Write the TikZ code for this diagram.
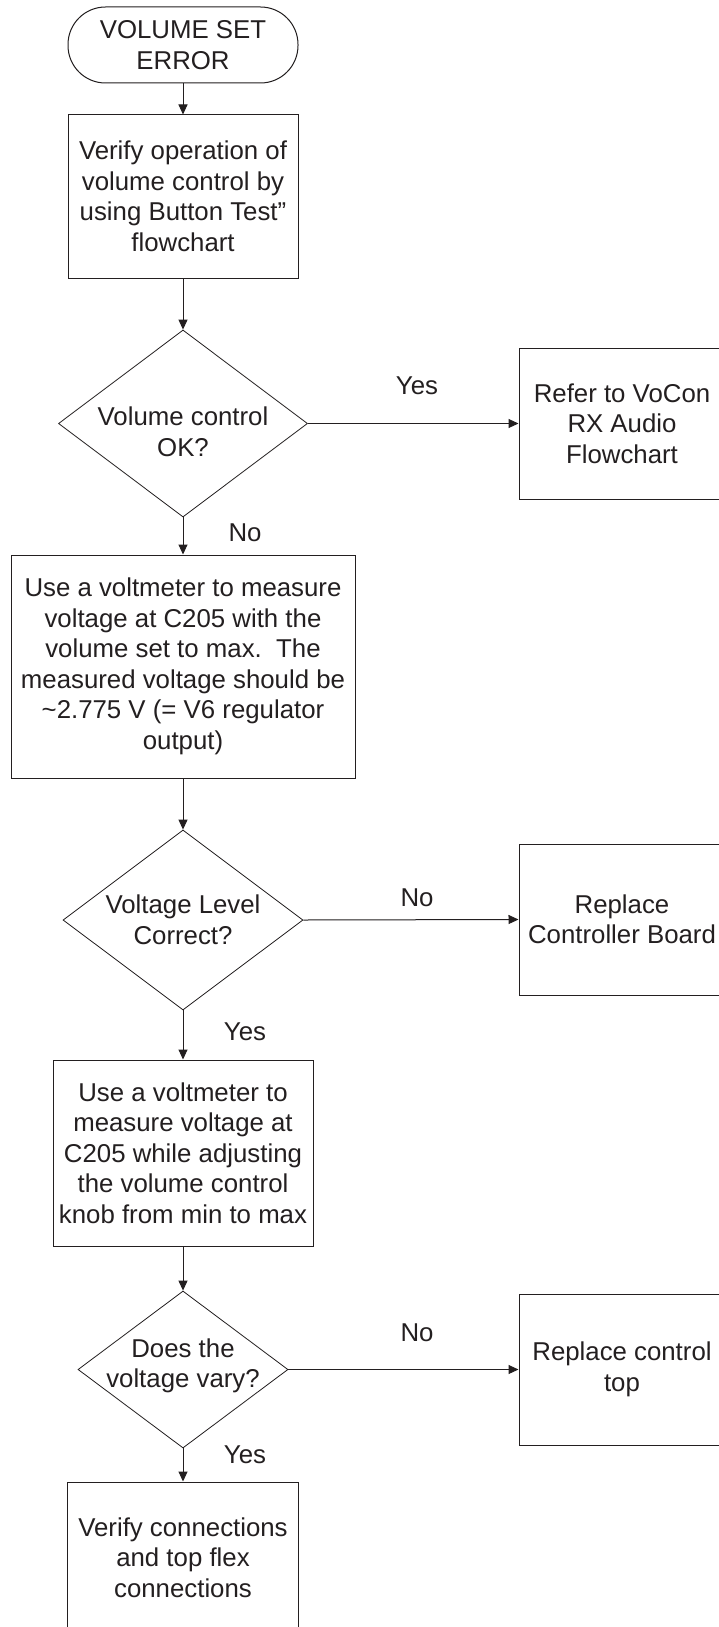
\documentclass[tikz,border=0pt]{standalone}
\usepackage{fontspec}
\setmainfont{Liberation Sans}
\usetikzlibrary{shapes.geometric,arrows.meta}
\definecolor{ink}{HTML}{231F20}
\tikzset{
  basefont/.style={font=\fontsize{25.8pt}{30.5pt}\selectfont, text=ink},
  proc/.style={draw=ink, line width=1pt, rectangle, inner sep=0pt, align=center, basefont},
  term/.style={proc, rounded corners=37.5pt},
  dia/.style={draw=ink, line width=0.8pt, diamond, inner sep=0pt},
  txt/.style={align=center, inner sep=0pt, basefont},
  lbl/.style={inner sep=0pt, basefont},
  arr/.style={draw=ink, line width=1pt, -{Triangle[length=10pt,width=9pt]}}
}
\begin{document}
\begin{tikzpicture}[x=1pt, y=-1pt]
\fill[white] (0,0) rectangle (719,1627);
\useasboundingbox (0,0) rectangle (719,1627);

\node[term, minimum width=230pt, minimum height=76pt] (start) at (183,45) {VOLUME SET\\ERROR};
\node[proc, minimum width=230pt, minimum height=163pt] (b1) at (183,196.5) {Verify operation of\\volume control by\\using Button Test''\\flowchart};

\node[dia, minimum width=249pt, minimum height=187pt] (d1) at (183,423.5) {};
\node[txt] (d1t) at (183,432) {Volume control\\OK?};
\node[proc, minimum width=206pt, minimum height=151pt] (r1) at (622,423.5) {Refer to VoCon\\RX Audio\\Flowchart};

\node[proc, minimum width=344pt, minimum height=223pt] (b2) at (183,666.5) {Use a voltmeter to measure\\voltage at C205 with the\\volume set to max.\ \ The\\measured voltage should be\\\textasciitilde2.775 V (= V6 regulator\\output)};

\node[dia, minimum width=240pt, minimum height=180pt] (d2) at (183,920) {};
\node[txt] (d2t) at (183,920) {Voltage Level\\Correct?};
\node[proc, minimum width=206pt, minimum height=151pt] (r2) at (622,919.5) {Replace\\Controller Board};

\node[proc, minimum width=260pt, minimum height=186pt] (b3) at (183,1153) {Use a voltmeter to\\measure voltage at\\C205 while adjusting\\the volume control\\knob from min to max};

\node[dia, minimum width=210pt, minimum height=157pt] (d3) at (183,1369.5) {};
\node[txt] (d3t) at (183,1366) {Does the\\voltage vary?};
\node[proc, minimum width=206pt, minimum height=151pt] (r3) at (622,1369.5) {Replace control\\top};

\node[proc, minimum width=231pt, minimum height=151pt] (b4) at (183,1557.5) {Verify connections\\and top flex\\connections};

\draw[arr] (start) -- (b1);
\draw[arr] (b1) -- (d1);
\draw[arr] (d1.east) -- (r1.west);
\draw[arr] (d1.south) -- (b2.north);
\draw[arr] (b2) -- (d2);
\draw[arr] (d2.east) -- (r2.west);
\draw[arr] (d2.south) -- (b3.north);
\draw[arr] (b3) -- (d3);
\draw[arr] (d3.east) -- (r3.west);
\draw[arr] (d3.south) -- (b4.north);

\node[lbl] (l1) at (417,386) {Yes};
\node[lbl] (l2) at (245,533) {No};
\node[lbl] (l3) at (417,898) {No};
\node[lbl] (l4) at (245,1032) {Yes};
\node[lbl] (l5) at (417,1333) {No};
\node[lbl] (l6) at (245,1455) {Yes};
\end{tikzpicture}
\end{document}
